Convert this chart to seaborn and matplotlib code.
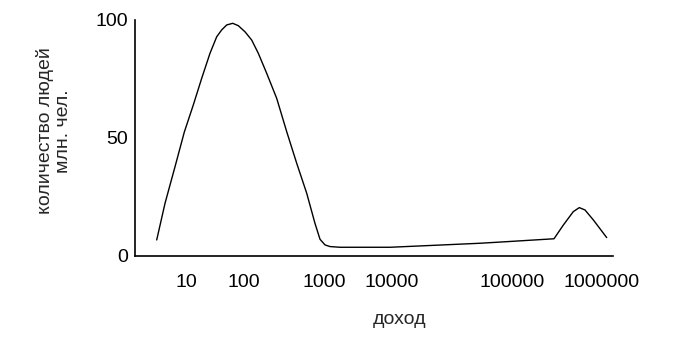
import matplotlib
matplotlib.use("Agg")
import matplotlib.pyplot as plt
import seaborn as sns
import pandas as pd

# x positions along the (non-uniform) income axis, in axis units (0..478)
pos = [21.7, 30, 40, 49.3, 58.3, 66.7, 75, 81.7, 86.7, 91.7, 97.7, 103.3, 110,
       116.7, 123.3, 131.7, 141.7, 151.7, 161.7, 171.7, 180, 185, 190, 195,
       205, 255, 281.7, 345, 365, 419, 428.3, 438.3, 444.3, 450, 458.3, 471.7]
people = [6.8, 22.3, 37.8, 52.5, 64, 75.3, 85.9, 92.9, 95.8, 97.9, 98.6, 97.6,
          95.0, 91.5, 85.9, 77.4, 66.8, 52.7, 39.3, 26.6, 13.8, 7.1, 4.7, 4.0,
          3.7, 3.7, 4.2, 5.4, 5.9, 7.3, 13.1, 18.8, 20.5, 19.5, 15.3, 7.8]

tick_pos = [51, 108.5, 189, 257, 377, 467]
tick_labels = ["10", "100", "1000", "10000", "100000", "1000000"]
y_ticks = [0, 50, 100]

df = pd.DataFrame({"pos": pos, "people": people})

sns.set_theme(style="white")
plt.rcParams["font.family"] = ["Liberation Sans", "DejaVu Sans"]

W, H = 684, 347
fig = plt.figure(figsize=(W / 100, H / 100), dpi=100)
L, R, T, B = 135, 613, 20, 256
ax = fig.add_axes([L / W, 1 - B / H, (R - L) / W, (B - T) / H])

sns.lineplot(data=df, x="pos", y="people", ax=ax, color="black",
             linewidth=1.0, sort=False, estimator=None)

ax.set_xlim(0, R - L)
ax.set_ylim(0, 100)
ax.set_xticks(tick_pos)
ax.set_xticklabels(tick_labels)
ax.set_yticks(y_ticks)
ax.set_yticklabels([str(v) for v in y_ticks])
ax.tick_params(axis="both", length=0, labelsize=14, colors="black")
ax.tick_params(axis="x", pad=13)
ax.tick_params(axis="y", pad=5)
ax.set_xlabel("")
ax.set_ylabel("")

for s in ["top", "right"]:
    ax.spines[s].set_visible(False)
for s in ["left", "bottom"]:
    ax.spines[s].set_color("black")
    ax.spines[s].set_linewidth(1.2)

fig.text(400 / W, 1 - 320 / H, "доход", ha="center", va="center", fontsize=14)
fig.text(54 / W, 1 - 131 / H, "количество людей\nмлн. чел.", rotation=90,
         ha="center", va="center", multialignment="center", fontsize=14,
         linespacing=1.15)

fig.savefig("out.png", dpi=100, facecolor="white")
